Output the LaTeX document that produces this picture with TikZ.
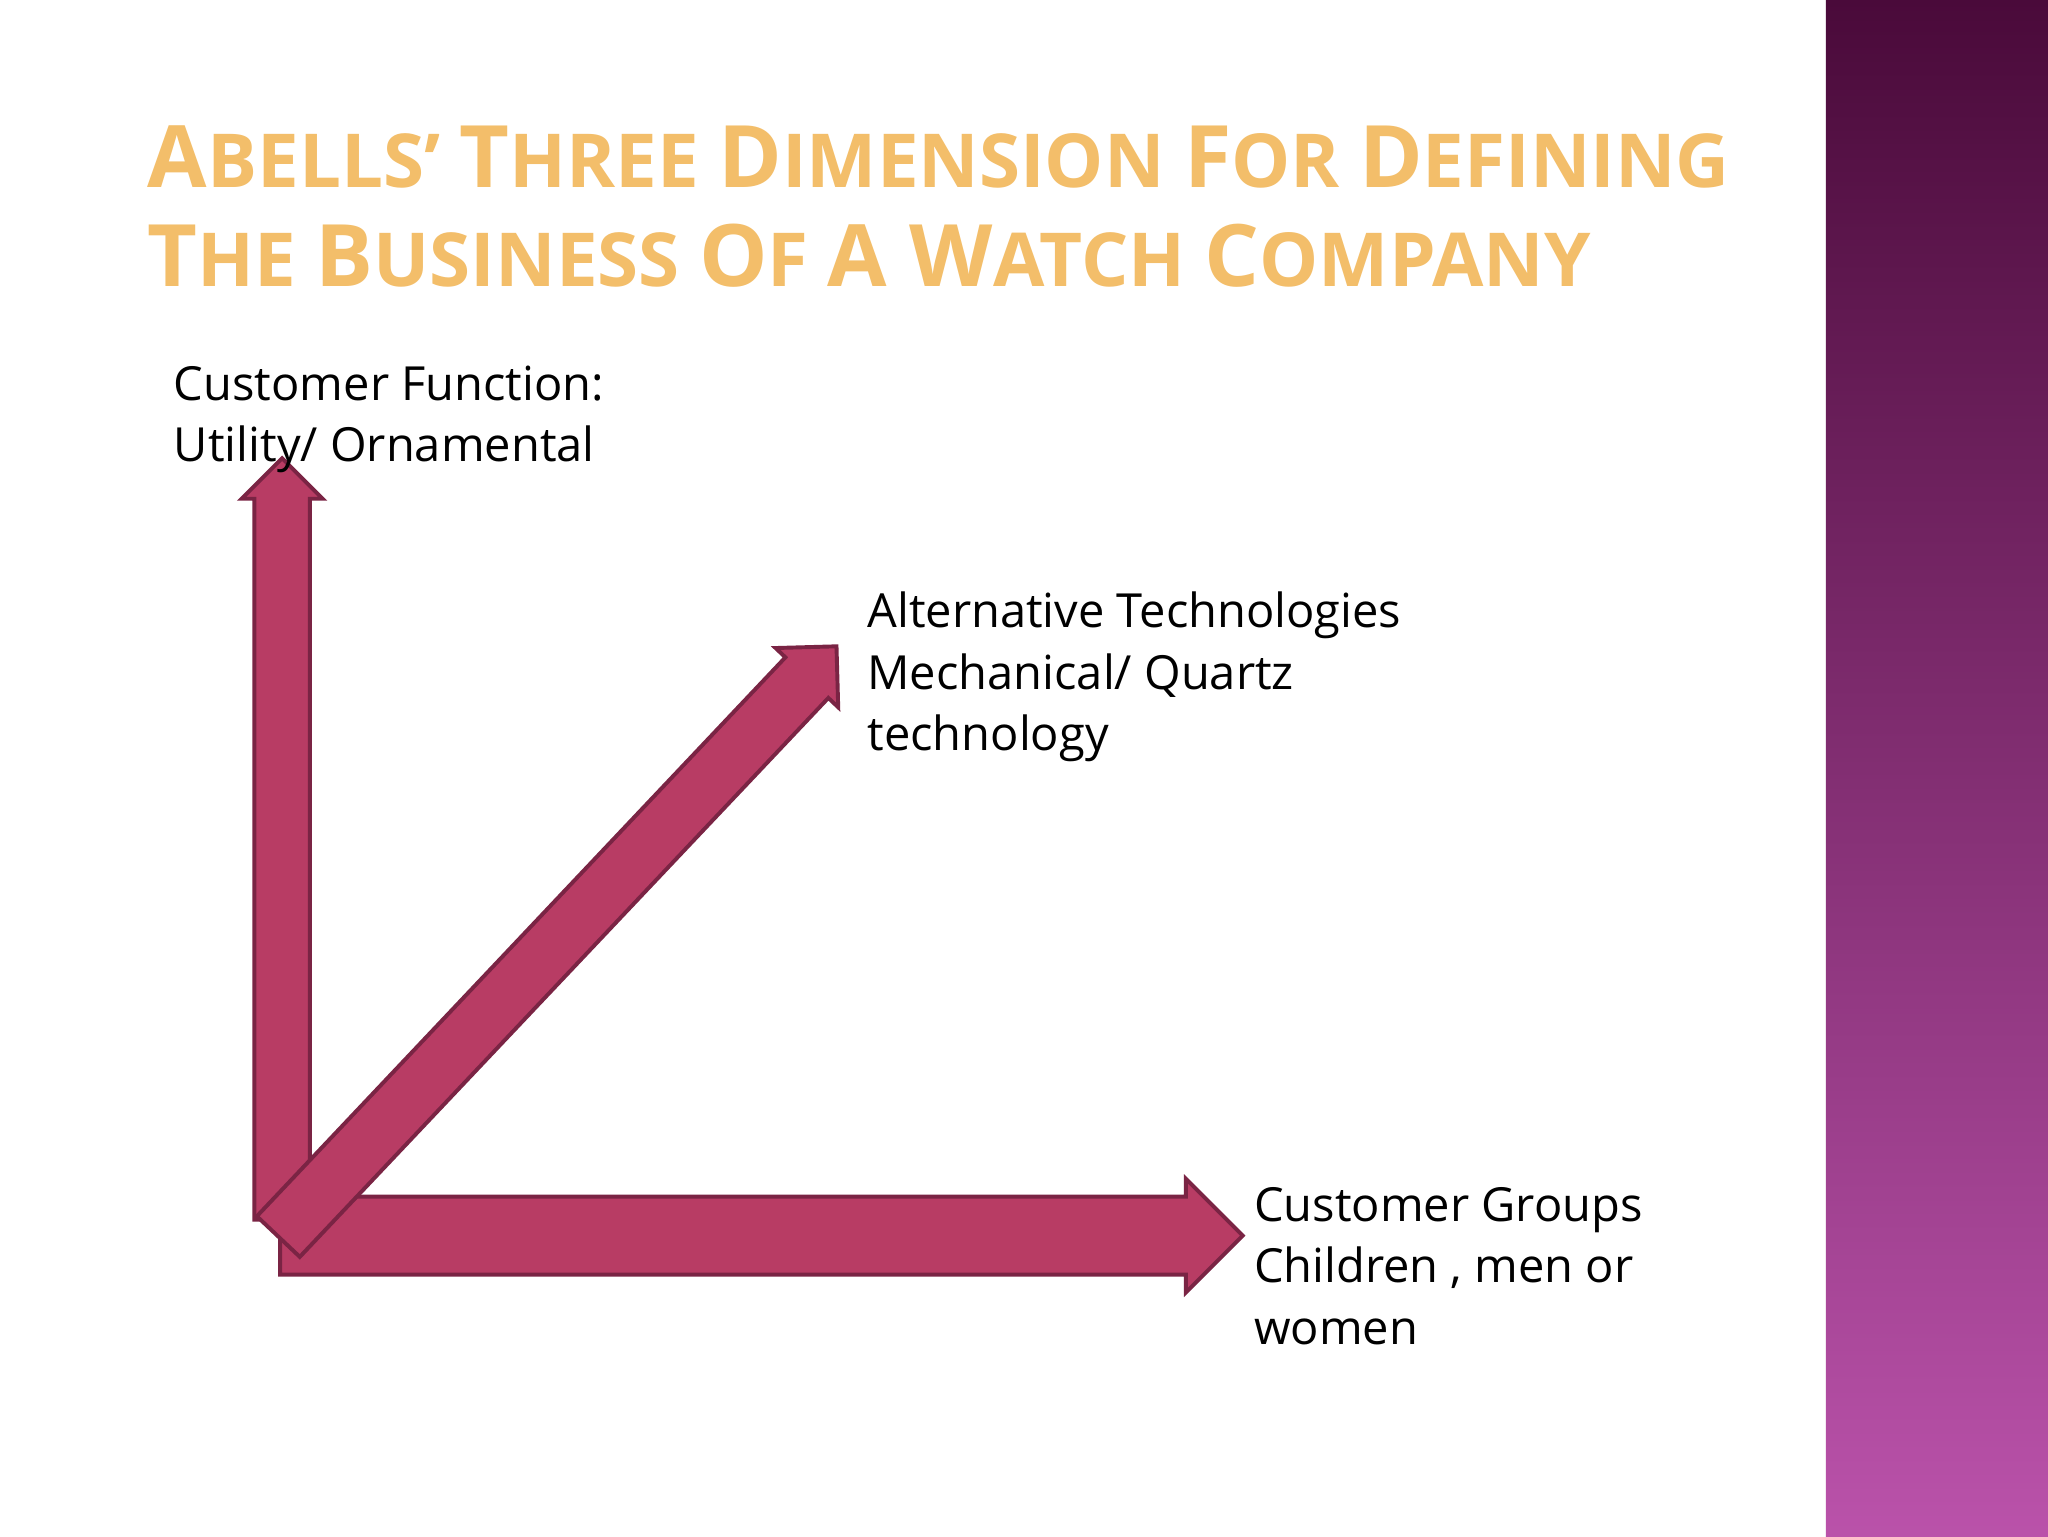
\documentclass[tikz,border=0pt]{standalone}
\usepackage{fontspec}
\setmainfont{Open Sans}
\usetikzlibrary{shapes.arrows}
\definecolor{arrfill}{HTML}{B83C64}
\definecolor{arrline}{HTML}{7A2444}
\definecolor{bandtop}{HTML}{4A0A3A}
\definecolor{bandbot}{HTML}{BA52AA}
\definecolor{titlecol}{HTML}{F3BE6A}
\newcommand\sm[1]{{\fontsize{57}{57}\selectfont #1}}
\tikzset{
 axis/.style={single arrow, draw=arrline, fill=arrfill, line width=3pt, single arrow tip angle=90, inner xsep=0pt, inner ysep=14pt, text height=0pt, text depth=0pt},
 lbl/.style={anchor=north west, align=left, font=\fontsize{36}{47}\selectfont, inner sep=0pt},
 ttl/.style={anchor=west, inner sep=0pt, text=titlecol, font=\fontsize{66}{66}\selectfont\bfseries}
}
\begin{document}
\begin{tikzpicture}[x=1pt,y=-1pt]
\useasboundingbox (0,0) rectangle (1568,1176);
\fill[white] (0,0) rectangle (1568,1176);
\shade[top color=bandtop, bottom color=bandbot] (1398,0) rectangle (1568,1176);
\node[ttl] (t1) at (113,120) {A\sm{BELLS’ }T\sm{HREE }D\sm{IMENSION }F\sm{OR }D\sm{EFINING}};
\node[ttl] (t2) at (113,196) {T\sm{HE }B\sm{USINESS }O\sm{F }A W\sm{ATCH }C\sm{OMPANY}};
\node[axis, minimum width=62pt, minimum height=583pt, rotate=90] (up) at (216,653) {};
\node[axis, minimum width=87pt, minimum height=737pt] (right) at (568,946) {};
\node[axis, minimum width=66pt, minimum height=622pt, rotate=46.6] (diag) at (419,729) {};
\node[lbl] (cf) at (133,280) {Customer Function:\\Utility/ Ornamental};
\node[lbl] (at) at (664,453) {Alternative Technologies\\Mechanical/ Quartz\\technology};
\node[lbl] (cg) at (960,909) {Customer Groups\\Children , men or\\women};
\end{tikzpicture}
\end{document}
